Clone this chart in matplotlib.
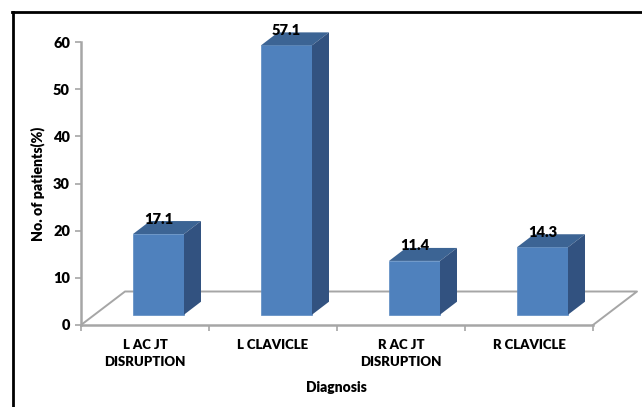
import matplotlib.pyplot as plt
from matplotlib.patches import Polygon

plt.rcParams['font.family'] = ['Lato', 'DejaVu Sans']
plt.rcParams['font.weight'] = 'heavy'

# Data
categories = ['L AC JT\nDISRUPTION', 'L CLAVICLE', 'R AC JT\nDISRUPTION', 'R CLAVICLE']
values = [17.1, 57.1, 11.4, 14.3]
y_ticks = [0, 10, 20, 30, 40, 50, 60]

fig = plt.figure(figsize=(6.42, 4.07), dpi=100)
W, H = 642, 407

# Axes box in pixels: x 81-593, y 42-325
ax = fig.add_axes([81 / W, 1 - 325 / H, 512 / W, 283 / H])
ax.set_xlim(0, 4)
ax.set_ylim(0, 60)
ax.patch.set_alpha(0)

# Pseudo 3D sizes in data units
px_x = 4 / 512
px_y = 60 / 283
lift = 10.3 * px_y
bar_w = 51 * px_x
dx = 17 * px_x
dy = 13 * px_y
floor_dx = 44 * px_x
floor_dy = 33.5 * px_y

grey = '#a6a6a6'
front = '#4f81bd'
top = '#3c6494'
side = '#325280'

# Floor
ax.plot([0, floor_dx, 4 + floor_dx, 4], [0, floor_dy, floor_dy, 0],
        color=grey, lw=1.4, clip_on=False, zorder=1)

# Bars
lefts = [i + 0.5 - 12 * px_x for i in range(len(values))]
ax.bar(lefts, values, width=bar_w, bottom=lift, align='edge', color=front,
       edgecolor='#5a8ac2', linewidth=0.5, zorder=3)

for left, v in zip(lefts, values):
    right = left + bar_w
    y_top = v + lift
    ax.add_patch(Polygon([(left, y_top), (right, y_top), (right + dx, y_top + dy), (left + dx, y_top + dy)],
                         closed=True, facecolor=top, edgecolor='none', clip_on=False, zorder=3))
    ax.add_patch(Polygon([(right, lift), (right + dx, lift + dy), (right + dx, y_top + dy), (right, y_top)],
                         closed=True, facecolor=side, edgecolor='none', clip_on=False, zorder=3))
    ax.text(left + bar_w / 2, y_top + 15 * px_y, f'{v:.1f}', ha='center', va='center',
            fontsize=10.5, color='black', zorder=5, clip_on=False)

# Axes styling
for name in ['top', 'right']:
    ax.spines[name].set_visible(False)
for name in ['left', 'bottom']:
    ax.spines[name].set_color(grey)
    ax.spines[name].set_linewidth(1.8)

ax.set_yticks(y_ticks)
ax.set_xticks(range(5))
ax.set_xticklabels([])
ax.tick_params(axis='both', color=grey, width=1.2, length=4)
ax.tick_params(axis='y', labelsize=10.5, pad=4)

for i, label in enumerate(categories):
    ax.text(i + 0.5, -14 * px_y, label, ha='center', va='top', fontsize=9.5,
            linespacing=1.5, clip_on=False)

fig.text(336 / W, 1 - 387 / H, 'Diagnosis', ha='center', va='center', fontsize=10)
fig.text(38 / W, 1 - 184 / H, 'No. of patients(%)', ha='center', va='center',
         rotation=90, fontsize=10.2)

# Black frame of the picture, open to the right and bottom
fig.add_artist(plt.Line2D([12.5 / W, 12.5 / W], [0, 1 - 12 / H], color='black', lw=2))
fig.add_artist(plt.Line2D([12 / W, 1], [1 - 12 / H, 1 - 12 / H], color='black', lw=2))

fig.savefig('out.png', dpi=100)
